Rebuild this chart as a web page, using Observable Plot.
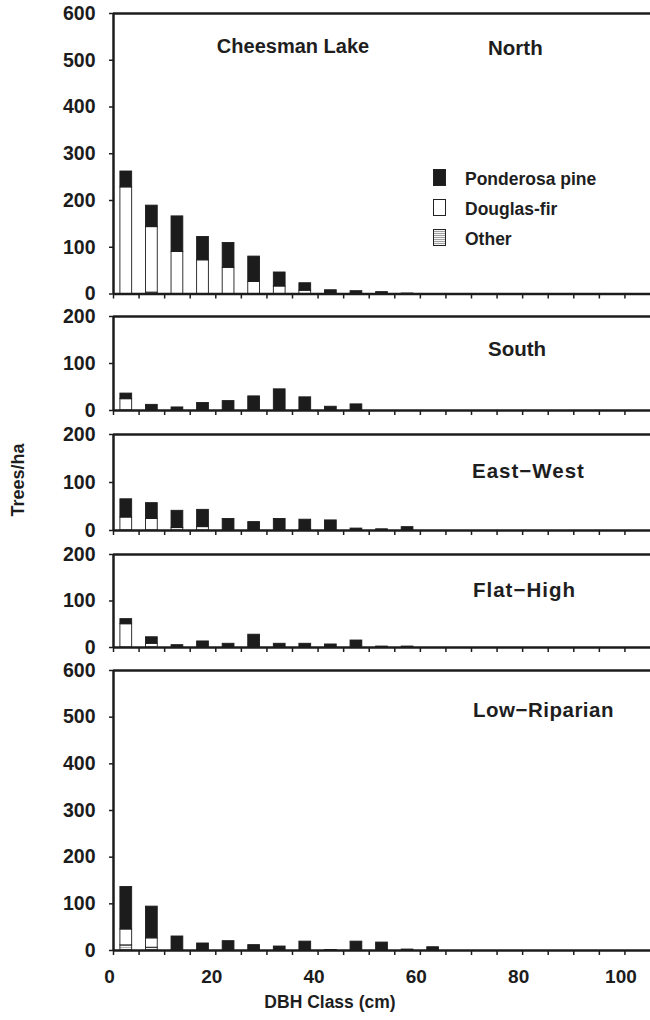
<!DOCTYPE html>
<html><head><meta charset="utf-8">
<script src="https://cdn.jsdelivr.net/npm/d3@7"></script>
<script src="https://cdn.jsdelivr.net/npm/@observablehq/plot@0.6"></script>
<style>
body{margin:0;background:#fff;font-family:"Liberation Sans",Arial,sans-serif;}
#wrap{position:relative;width:650px;height:1020px;overflow:hidden;}
.p{position:absolute;left:0;}
.lbl{position:absolute;font-weight:bold;color:#1e1e1e;white-space:nowrap;line-height:1;}
.sw{position:absolute;width:13px;height:17px;border:1px solid #222;box-sizing:border-box;}
</style></head><body>
<svg width="0" height="0" style="position:absolute"><defs>
<pattern id="hatch" width="4" height="2" patternUnits="userSpaceOnUse"><rect width="4" height="2" fill="#f4f4f4"/><line x1="0" y1="0.5" x2="4" y2="0.5" stroke="#9a9a9a" stroke-width="0.7"/></pattern>
</defs></svg>
<div id="wrap"></div>
<script>
// DBH class midpoints (cm)
const classes = [2.5, 7.5, 12.5, 17.5, 22.5, 27.5, 32.5, 37.5, 42.5, 47.5, 52.5, 57.5, 62.5];
const species = ["Other", "Douglas-fir", "Ponderosa pine"];

// Trees/ha by class
const northPP    = [34, 46, 76, 50, 53, 54, 30, 16, 8, 6, 4, 1, 0];
const northDF    = [228, 140, 90, 72, 56, 26, 16, 7, 0, 0, 0, 0, 0];
const northOther = [0, 3, 0, 0, 0, 0, 0, 0, 0, 0, 0, 0, 0];

const southPP    = [12, 12, 6.5, 16, 20, 30, 45, 28, 8, 13, 0, 0, 0];
const southDF    = [24, 0, 0, 0, 0, 0, 0, 0, 0, 0, 0, 0, 0];
const southOther = [0, 0, 0, 0, 0, 0, 0, 0, 0, 0, 0, 0, 0];

const ewPP       = [38, 33, 36, 36, 24, 17.5, 24, 20.5, 21, 4, 2.5, 7, 0];
const ewDF       = [27, 24, 5, 7, 0, 0, 0, 2, 0, 0, 0, 0, 0];
const ewOther    = [0, 0, 0, 0, 0, 0, 0, 0, 0, 0, 0, 0, 0];

const flatPP     = [11, 14, 5, 13, 8, 27.5, 8, 8, 6.5, 15, 2, 2, 0];
const flatDF     = [50, 8, 0, 0, 0, 0, 0, 0, 0, 0, 0, 0, 0];
const flatOther  = [0, 0, 0, 0, 0, 0, 0, 0, 0, 0, 0, 0, 0];

const lowPP      = [91, 68, 30, 15, 20, 11.5, 8.5, 19, 1, 19, 17, 2, 7];
const lowDF      = [34, 20, 0, 0, 0, 0, 0, 0, 0, 0, 0, 0, 0];
const lowOther   = [11, 6, 0, 0, 0, 0, 0, 0, 0, 0, 0, 0, 0];

const yTicks600 = [0, 100, 200, 300, 400, 500, 600];
const yTicks200 = [0, 100, 200];
const xMinorTicks = d3.range(0, 105, 5);
const xLabelTicks = [0, 20, 40, 60, 80, 100];

const panels = [
  {name: "North", pp: northPP, df: northDF, other: northOther, max: 600, ticks: yTicks600, top: 0, height: 300, mt: 13, mb: 6.5},
  {name: "South", pp: southPP, df: southDF, other: southOther, max: 200, ticks: yTicks200, top: 305, height: 111, mt: 11, mb: 6},
  {name: "East−West", pp: ewPP, df: ewDF, other: ewOther, max: 200, ticks: yTicks200, top: 423, height: 113, mt: 11, mb: 6},
  {name: "Flat−High", pp: flatPP, df: flatDF, other: flatOther, max: 200, ticks: yTicks200, top: 543, height: 110, mt: 11, mb: 6},
  {name: "Low−Riparian", pp: lowPP, df: lowDF, other: lowOther, max: 600, ticks: yTicks600, top: 657, height: 363, mt: 13, mb: 70, bottom: true}
];

const halfWidth = 1.15;
const wrap = document.getElementById("wrap");
const ink = "#1c1c1c";

function rowsFor(p) {
  const rows = [];
  classes.forEach((c, i) => {
    let base = 0;
    [["Other", p.other[i]], ["Douglas-fir", p.df[i]], ["Ponderosa pine", p.pp[i]]].forEach(([s, v]) => {
      if (v > 0) { rows.push({x1: c - halfWidth, x2: c + halfWidth, y1: base, y2: base + v, species: s}); base += v; }
    });
  });
  return rows;
}

panels.forEach(p => {
  const marks = [
    Plot.rectY(rowsFor(p), {x1: "x1", x2: "x2", y1: "y1", y2: "y2", fill: "species", stroke: ink, strokeWidth: 0.9}),
    Plot.axisY({ticks: p.ticks, tickSize: 4, tickPadding: 14, fontSize: 19.5, fontWeight: "bold", label: null, stroke: ink, strokeWidth: 1.5}),
    Plot.axisX({ticks: xMinorTicks, tickSize: 5, tickFormat: () => "", label: null, stroke: ink, strokeWidth: 1.5}),
    Plot.ruleY([0], {stroke: ink, strokeWidth: 2.5}),
    Plot.ruleY([p.max], {stroke: ink, strokeWidth: 2.5}),
    Plot.ruleX([0], {stroke: ink, strokeWidth: 2.5})
  ];
  if (p.bottom) {
    marks.push(Plot.axisX({ticks: xLabelTicks, tickSize: 0, tickPadding: 19, dx: -4, fontSize: 19, fontWeight: "bold", label: null}));
  }
  const chart = Plot.plot({
    width: 650, height: p.height,
    marginLeft: 113, marginRight: 0, marginTop: p.mt, marginBottom: p.mb,
    style: {fontFamily: "'Liberation Sans', Arial, sans-serif", color: ink, background: "transparent", overflow: "visible"},
    x: {domain: [0, 105]},
    y: {domain: [0, p.max]},
    color: {type: "ordinal", domain: species, range: ["url(#hatch)", "#ffffff", ink]},
    marks
  });
  chart.classList.add("p");
  chart.style.top = p.top + "px";
  wrap.appendChild(chart);
});

function label(text, x, y, size, opts = {}) {
  const d = document.createElement("div");
  d.className = "lbl";
  d.textContent = text;
  d.style.left = x + "px";
  d.style.top = y + "px";
  d.style.fontSize = size + "px";
  if (opts.spacing) d.style.letterSpacing = opts.spacing;
  d.style.transform = opts.transform || "translate(0,-50%)";
  wrap.appendChild(d);
}

label("Cheesman Lake", 293, 46, 20, {transform: "translate(-50%,-50%)"});
label("North", 488, 48, 20.5);
label("South", 488, 349, 20.5);
label("East−West", 472, 471, 20.5, {spacing: "1px"});
label("Flat−High", 473, 590, 20.5, {spacing: "1px"});
label("Low−Riparian", 473, 710, 20.5, {spacing: "0.5px"});
label("Trees/ha", 18, 480, 18, {transform: "translate(-50%,-50%) rotate(-90deg)"});
label("DBH Class (cm)", 330, 1003, 17.5, {transform: "translate(-50%,-50%)"});

// legend
const legendFill = ["#1c1c1c", "#ffffff", "url(#hatch)"];
const legendNames = ["Ponderosa pine", "Douglas-fir", "Other"];
legendNames.forEach((n, i) => {
  const y = 178 + i * 30;
  const sw = document.createElement("div");
  sw.className = "sw";
  sw.style.left = "433px";
  sw.style.top = (y - 9) + "px";
  if (i === 2) {
    sw.style.background = "repeating-linear-gradient(to bottom,#f4f4f4 0 1px,#a0a0a0 1px 2px)";
  } else sw.style.background = legendFill[i];
  wrap.appendChild(sw);
  label(n, 465, y + 2, 17.5);
});
</script>
</body></html>
